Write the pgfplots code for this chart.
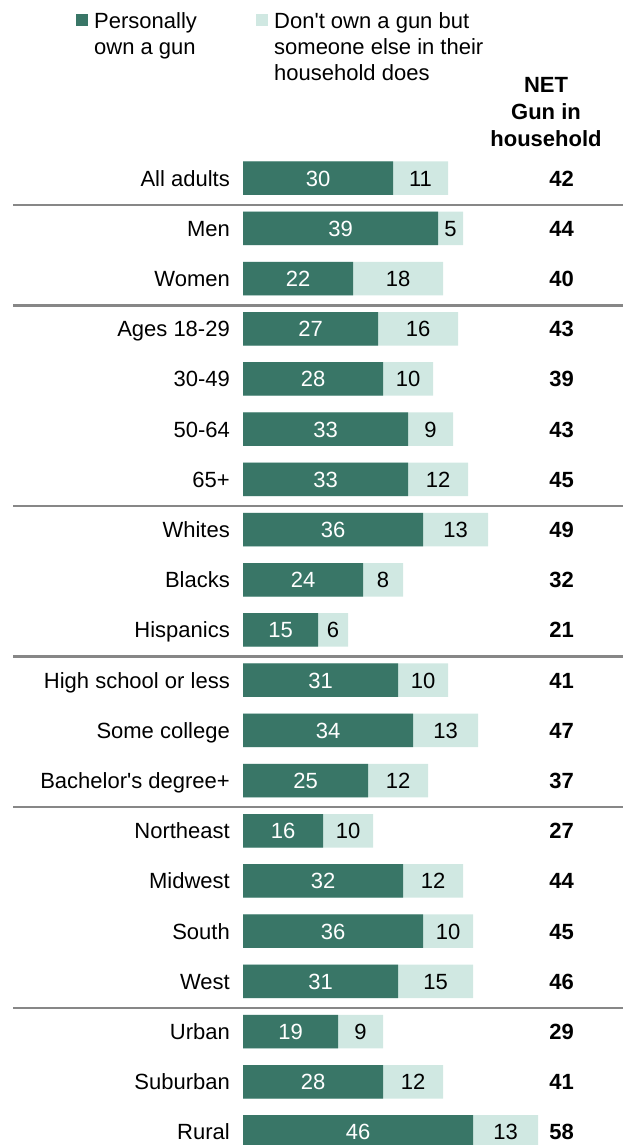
\documentclass[border=0pt]{standalone}
\usepackage{pgfplots}
\pgfplotsset{compat=1.18}
\usepackage{pgfplotstable}
\usepackage{fontspec}
\setmainfont{Liberation Sans}

\definecolor{own}{RGB}{57,118,103}
\definecolor{hh}{RGB}{208,232,226}
\definecolor{sep}{RGB}{135,135,135}
\newcommand\f{\fontsize{22}{26}\selectfont}
\tikzset{lbl/.style={font=\f, inner sep=0pt, text height=15.8pt, text depth=0pt}}

% row, label, personally own, someone else in household, NET
\pgfplotstableread[col sep=comma]{
idx,group,own,other,net
0,All adults,30,11,42
1,Men,39,5,44
2,Women,22,18,40
3,Ages 18-29,27,16,43
4,30-49,28,10,39
5,50-64,33,9,43
6,65+,33,12,45
7,Whites,36,13,49
8,Blacks,24,8,32
9,Hispanics,15,6,21
10,High school or less,31,10,41
11,Some college,34,13,47
12,Bachelor\textquotesingle s degree+,25,12,37
13,Northeast,16,10,27
14,Midwest,32,12,44
15,South,36,10,45
16,West,31,15,46
17,Urban,19,9,29
18,Suburban,28,12,41
19,Rural,46,13,58
}\guns

\begin{document}
\begin{tikzpicture}
\begin{axis}[
  scale only axis,
  width=623pt, height=1145pt,
  xmin=-48.6, xmax=76,
  ymin=-3.55, ymax=19.26,
  y dir=reverse,
  hide axis,
]
% light bar = own + other, dark bar drawn over it
\addplot[xbar, bar shift=0pt, bar width=33.5pt, fill=hh, draw=none]
  table[x expr=\thisrow{own}+\thisrow{other}, y=idx] {\guns};
\addplot[xbar, bar shift=0pt, bar width=33.5pt, fill=own, draw=none]
  table[x=own, y=idx] {\guns};

% segment values
\addplot[draw=none, mark=none, nodes near coords, nodes near coords align=center,
  point meta=explicit symbolic,
  every node near coord/.append style={lbl, text=white}]
  table[x expr=\thisrow{own}/2, y=idx, meta=own] {\guns};
\addplot[draw=none, mark=none, nodes near coords, nodes near coords align=center,
  point meta=explicit symbolic,
  every node near coord/.append style={lbl, text=black}]
  table[x expr=\thisrow{own}+\thisrow{other}/2, y=idx, meta=other] {\guns};
% NET column
\addplot[draw=none, mark=none, nodes near coords, nodes near coords align=center,
  point meta=explicit symbolic,
  every node near coord/.append style={lbl, font=\f\bfseries, text=black}]
  table[x expr=63.7, y=idx, meta=net] {\guns};
% category names
\addplot[draw=none, mark=none, nodes near coords, nodes near coords align=east,
  point meta=explicit symbolic,
  every node near coord/.append style={lbl, text=black}]
  table[x expr=-2.6, y=idx, meta=group] {\guns};

% group separators
\pgfplotsinvokeforeach{0.53,2.53,6.53,9.53,12.53,16.53}{
  \draw[sep, line width=2.6pt] (axis cs:-46,#1) -- (axis cs:76,#1);
}

% legend
\fill[own] (axis cs:-33.5,-3.27) rectangle (axis cs:-31.1,-3.03);
\fill[hh] (axis cs:2.6,-3.27) rectangle (axis cs:5.0,-3.03);
\node[font=\f, anchor=base west, inner sep=0pt] at (axis cs:-29.8,-2.988) {Personally};
\node[font=\f, anchor=base west, inner sep=0pt] at (axis cs:-29.8,-2.47) {own a gun};
\node[font=\f, anchor=base west, inner sep=0pt] at (axis cs:6.2,-2.988) {Don\textquotesingle t own a gun but};
\node[font=\f, anchor=base west, inner sep=0pt] at (axis cs:6.2,-2.47) {someone else in their};
\node[font=\f, anchor=base west, inner sep=0pt] at (axis cs:6.2,-1.952) {household does};

% NET header
\node[font=\f\bfseries, anchor=base, inner sep=0pt] at (axis cs:60.6,-1.713) {NET};
\node[font=\f\bfseries, anchor=base, inner sep=0pt] at (axis cs:60.6,-1.175) {Gun in};
\node[font=\f\bfseries, anchor=base, inner sep=0pt] at (axis cs:60.6,-0.637) {household};
\end{axis}
\pgfresetboundingbox
\path[use as bounding box] (current axis.south west) rectangle (current axis.north east);
\end{tikzpicture}
\end{document}
